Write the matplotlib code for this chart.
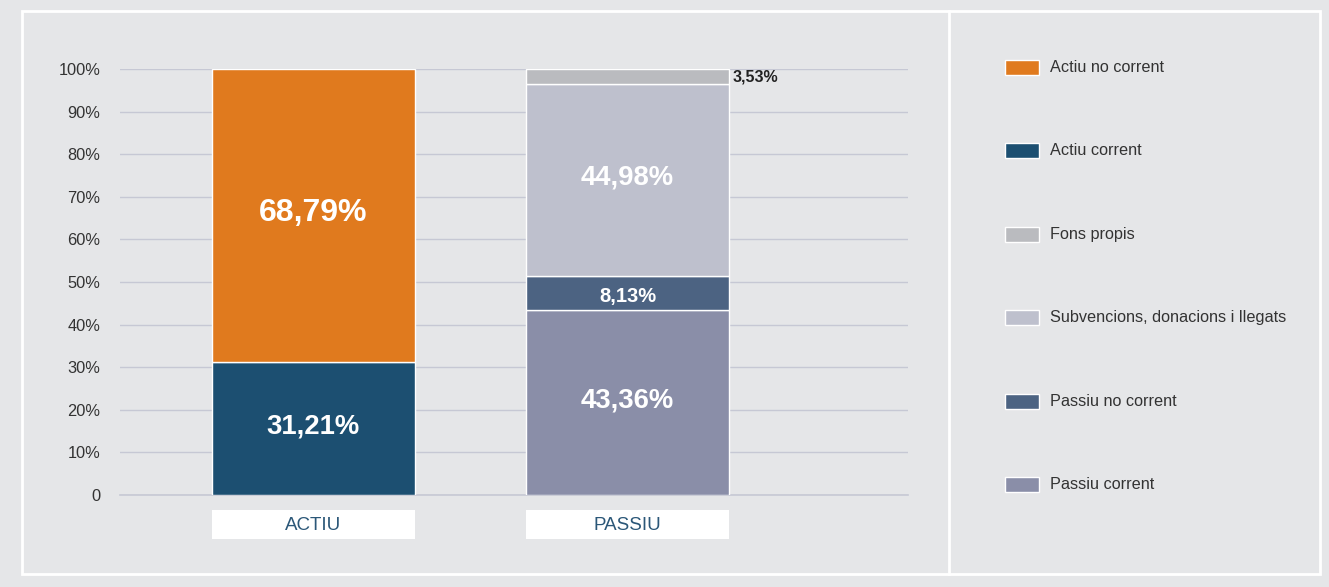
import matplotlib.pyplot as plt
from matplotlib.patches import Rectangle
from matplotlib.lines import Line2D
import matplotlib.transforms as mtransforms

plt.rcParams['font.family'] = ['Liberation Sans', 'DejaVu Sans']

BG = '#e5e6e8'

categories = ['ACTIU', 'PASSIU']

# segments stacked bottom to top for each column
actiu_names = ['Actiu corrent', 'Actiu no corrent']
actiu_vals = [31.21, 68.79]
actiu_colors = ['#1c4f71', '#e07a1e']

passiu_names = ['Passiu corrent', 'Passiu no corrent',
                'Subvencions, donacions i llegats', 'Fons propis']
passiu_vals = [43.36, 8.13, 44.98, 3.53]
passiu_colors = ['#8a8ea8', '#4c6382', '#bec0cd', '#babbbf']

legend_names = ['Actiu no corrent', 'Actiu corrent', 'Fons propis',
                'Subvencions, donacions i llegats', 'Passiu no corrent',
                'Passiu corrent']
legend_colors = ['#e07a1e', '#1c4f71', '#babbbf', '#bec0cd', '#4c6382', '#8a8ea8']

yticks = list(range(0, 101, 10))
ytick_labels = ['0'] + ['%d%%' % t for t in yticks[1:]]

W, H = 1329, 587
fig = plt.figure(figsize=(W / 100, H / 100), dpi=100, facecolor=BG)

# white frame and divider
fig.add_artist(Rectangle((22 / W, 13 / H), 1298 / W, 563 / H, transform=fig.transFigure,
                         fill=False, edgecolor='white', linewidth=2))
fig.add_artist(Line2D([949 / W, 949 / W], [13 / H, 576 / H], transform=fig.transFigure,
                      color='white', linewidth=2))

ax = fig.add_axes([120 / W, 92 / H, 788 / W, 426 / H])
ax.set_facecolor(BG)
for s in ax.spines.values():
    s.set_visible(False)

width = 0.647
x = [0, 1]


def fmt(v):
    return ('%.2f%%' % v).replace('.', ',')


def stack(xpos, vals, colors, sizes):
    bottom = 0
    for v, c, fs in zip(vals, colors, sizes):
        ax.bar(xpos, v, width, bottom=bottom, color=c, edgecolor='white',
               linewidth=1, zorder=3)
        if fs == 'out':
            ax.text(xpos + width / 2 + 0.012, bottom + v / 2, fmt(v), ha='left',
                    va='center', fontsize=11.5, fontweight='bold', color='#222222', zorder=4)
        else:
            shift = 0.5 if fs > 16 else -0.9
            ax.text(xpos, bottom + v / 2 + shift, fmt(v), ha='center', va='center',
                    fontsize=fs, fontweight='bold', color='white', zorder=4)
        bottom += v


stack(x[0], actiu_vals, actiu_colors, [19.8, 23])
stack(x[1], passiu_vals, passiu_colors, [19.8, 14.5, 19.8, 'out'])

ax.set_xlim(-0.616, 1.893)
ax.set_ylim(0, 100)
ax.set_yticks(yticks)
ax.set_yticklabels(ytick_labels, fontsize=11.8, color='#333333')
ax.tick_params(axis='y', length=0, pad=14)
ax.set_xticks([])
ax.grid(axis='y', color='#c6c8d4', linewidth=1, zorder=0)
ax.axhline(0, color='#c6c8d4', linewidth=1.2, zorder=0, clip_on=False)

# category label boxes below the bars
trans = mtransforms.blended_transform_factory(ax.transData, ax.transAxes)
for xp, name in zip(x, categories):
    ax.add_patch(Rectangle((xp - width / 2, -0.103), width, 0.068, transform=trans,
                           facecolor='white', edgecolor='none', clip_on=False))
    ax.text(xp, -0.072, name, transform=trans, ha='center', va='center',
            fontsize=13.5, color='#2b5778')

# legend
for i, (name, c) in enumerate(zip(legend_names, legend_colors)):
    yc = 67.5 + i * 83.4
    fig.add_artist(Rectangle((1005 / W, (H - yc - 7.5) / H), 34 / W, 15 / H,
                             transform=fig.transFigure, facecolor=c,
                             edgecolor='white', linewidth=1))
    fig.text(1050 / W, (H - yc) / H, name, ha='left', va='center',
             fontsize=11.7, color='#333333')

fig.savefig('out.png', dpi=100, facecolor=BG)
